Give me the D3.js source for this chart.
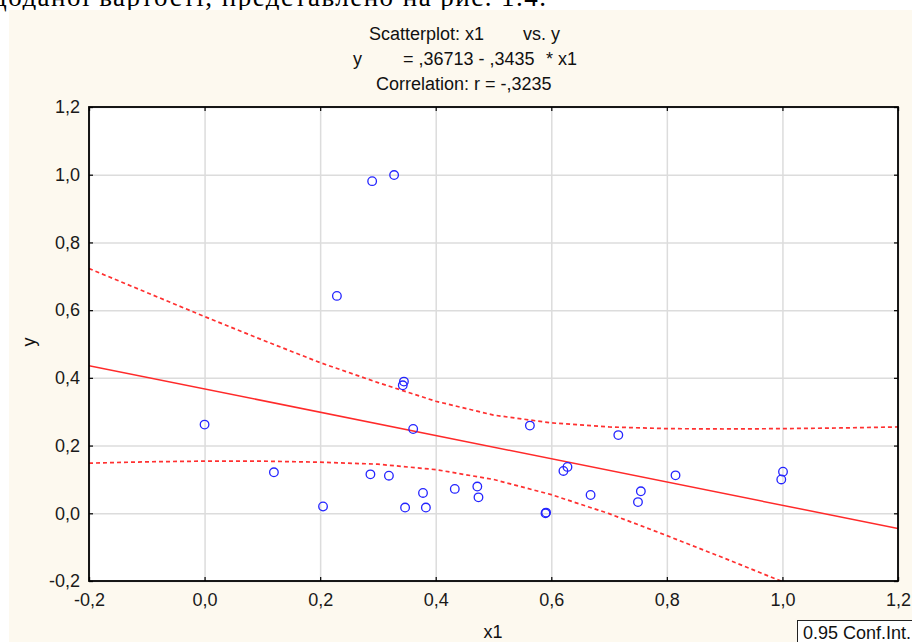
<!DOCTYPE html>
<html>
<head>
<meta charset="utf-8">
<script src="https://cdn.jsdelivr.net/npm/d3@7"></script>
<style>
  body { margin: 0; background: #ffffff; }
  svg { display: block; }
  .tick text { font-family: "Liberation Sans", Arial, sans-serif; }
</style>
</head>
<body>
<div id="chart"></div>
<script>
var xTicks = [-0.2, 0.0, 0.2, 0.4, 0.6, 0.8, 1.0, 1.2];
var yTicks = [-0.2, 0.0, 0.2, 0.4, 0.6, 0.8, 1.0, 1.2];

var x1Values = [0.000, 0.290, 0.328, 0.229, 0.345, 0.343, 0.361, 0.563, 0.716, 0.628,
                0.621, 0.287, 0.319, 0.378, 0.433, 0.472, 0.474, 0.205, 0.347, 0.383,
                0.590, 0.591, 0.668, 0.755, 0.750, 0.120, 0.815, 1.001, 0.998];
var yValues = [0.262, 0.981, 0.999, 0.642, 0.389, 0.378, 0.249, 0.259, 0.231, 0.137,
               0.125, 0.115, 0.111, 0.060, 0.072, 0.079, 0.047, 0.020, 0.017, 0.017,
               0.000, 0.002, 0.054, 0.065, 0.033, 0.121, 0.112, 0.123, 0.100];

var fitX = [-0.2, 1.2];
var fitY = [0.436, -0.045];

var bandX = [-0.2, -0.1, 0.0, 0.1, 0.2, 0.3, 0.4, 0.5, 0.6, 0.7, 0.8, 0.9, 1.0, 1.1, 1.2];
var bandUpper = [0.723, 0.652, 0.581, 0.512, 0.445, 0.386, 0.331, 0.290, 0.267, 0.255, 0.250, 0.249, 0.250, 0.252, 0.255];
var bandLower = [0.148, 0.152, 0.154, 0.154, 0.151, 0.145, 0.129, 0.100, 0.055, -0.001, -0.066, -0.133, -0.202, -0.274, -0.345];

var titleLines = [
    [{ x: 369, text: "Scatterplot: x1" }, { x: 523, text: "vs. y" }],
    [{ x: 353, text: "y" }, { x: 403, text: "= ,36713 - ,3435" }, { x: 546, text: "* x1" }],
    [{ x: 376, text: "Correlation: r = -,3235" }]
];

var W = 912, H = 642;
var plot = { left: 89, top: 107, right: 898, bottom: 581 };

var locale = d3.formatLocale({ decimal: ",", thousands: " ", grouping: [3], currency: ["", ""], minus: "-" });
var fmt = locale.format(".1f");

var svg = d3.select("#chart").append("svg")
    .attr("width", W)
    .attr("height", H);

// cropped line of document text above the figure
svg.append("text")
    .attr("x", -7)
    .attr("y", 6)
    .attr("font-family", "Liberation Serif, Times New Roman, serif")
    .attr("font-size", 27)
    .attr("fill", "#000")
    .attr("textLength", 553)
    .attr("lengthAdjust", "spacing")
    .text("доданої вартості, представлено на рис. 1.4.");

svg.append("rect")
    .attr("x", 9)
    .attr("y", 10)
    .attr("width", W - 9)
    .attr("height", H - 10)
    .attr("fill", "#fdf9ef");

var x = d3.scaleLinear().domain([-0.2, 1.2]).range([plot.left, plot.right]);
var y = d3.scaleLinear().domain([-0.2, 1.2]).range([plot.bottom, plot.top]);
var width = plot.right - plot.left, height = plot.bottom - plot.top;

svg.append("rect")
    .attr("x", plot.left)
    .attr("y", plot.top)
    .attr("width", width)
    .attr("height", height)
    .attr("fill", "#ffffff");

svg.append("clipPath").attr("id", "clip")
    .append("rect")
    .attr("x", plot.left)
    .attr("y", plot.top)
    .attr("width", width)
    .attr("height", height);

// grid
svg.append("g")
    .attr("transform", "translate(0," + plot.bottom + ")")
    .call(d3.axisBottom(x).tickValues(xTicks).tickSize(-height).tickFormat(""))
    .call(function(g) {
        g.select(".domain").remove();
        g.selectAll("line").attr("stroke", "#dcdcdc").attr("stroke-width", 1.5);
    });
svg.append("g")
    .attr("transform", "translate(" + plot.left + ",0)")
    .call(d3.axisLeft(y).tickValues(yTicks).tickSize(-width).tickFormat(""))
    .call(function(g) {
        g.select(".domain").remove();
        g.selectAll("line").attr("stroke", "#dcdcdc").attr("stroke-width", 1.5);
    });

var lines = svg.append("g").attr("clip-path", "url(#clip)");

var line = d3.line()
    .x(function(d) { return x(d[0]); })
    .y(function(d) { return y(d[1]); });

lines.append("path")
    .datum(d3.zip(bandX, bandUpper))
    .attr("d", line)
    .attr("fill", "none")
    .attr("stroke", "#ff3030")
    .attr("stroke-width", 1.7)
    .attr("stroke-dasharray", "4,3");
lines.append("path")
    .datum(d3.zip(bandX, bandLower))
    .attr("d", line)
    .attr("fill", "none")
    .attr("stroke", "#ff3030")
    .attr("stroke-width", 1.7)
    .attr("stroke-dasharray", "4,3");
lines.append("path")
    .datum(d3.zip(fitX, fitY))
    .attr("d", line)
    .attr("fill", "none")
    .attr("stroke", "#ff2a2a")
    .attr("stroke-width", 1.5);

svg.append("g").selectAll("circle")
    .data(d3.zip(x1Values, yValues))
    .enter().append("circle")
    .attr("cx", function(d) { return x(d[0]); })
    .attr("cy", function(d) { return y(d[1]); })
    .attr("r", 4.3)
    .attr("fill", "none")
    .attr("stroke", "#2424ff")
    .attr("stroke-width", 1.3);

// axes with inside ticks
function styleAxis(g) {
    g.select(".domain").remove();
    g.selectAll("line").attr("stroke", "#111").attr("stroke-width", 1.3);
    g.selectAll("text").attr("fill", "#1a1a1a").attr("font-size", 18);
}

svg.append("g")
    .attr("transform", "translate(" + plot.left + ",0)")
    .call(d3.axisLeft(y).tickValues(yTicks).tickSize(-4).tickPadding(9).tickFormat(fmt))
    .call(styleAxis);
svg.append("g")
    .attr("transform", "translate(0," + plot.bottom + ")")
    .call(d3.axisBottom(x).tickValues(xTicks).tickSize(-4).tickPadding(12).tickFormat(fmt))
    .call(styleAxis);
svg.append("g")
    .attr("transform", "translate(" + plot.right + ",0)")
    .call(d3.axisRight(y).tickValues(yTicks).tickSize(-4).tickFormat(""))
    .call(styleAxis);
svg.append("g")
    .attr("transform", "translate(0," + plot.top + ")")
    .call(d3.axisTop(x).tickValues(xTicks).tickSize(-4).tickFormat(""))
    .call(styleAxis);

svg.append("rect")
    .attr("x", plot.left)
    .attr("y", plot.top)
    .attr("width", width)
    .attr("height", height)
    .attr("fill", "none")
    .attr("stroke", "#000")
    .attr("stroke-width", 1.8);

// titles
var titleBase = [40, 65, 90];
titleLines.forEach(function(row, i) {
    svg.append("g").selectAll("text")
        .data(row)
        .enter().append("text")
        .attr("x", function(d) { return d.x; })
        .attr("y", titleBase[i])
        .attr("font-family", "Liberation Sans, Arial, sans-serif")
        .attr("font-size", 18)
        .attr("fill", "#111")
        .text(function(d) { return d.text; });
});

svg.append("text")
    .attr("x", 493)
    .attr("y", 638)
    .attr("text-anchor", "middle")
    .attr("font-family", "Liberation Sans, Arial, sans-serif")
    .attr("font-size", 18)
    .attr("fill", "#111")
    .text("x1");

svg.append("text")
    .attr("transform", "translate(35,342) rotate(-90)")
    .attr("text-anchor", "middle")
    .attr("font-family", "Liberation Sans, Arial, sans-serif")
    .attr("font-size", 18)
    .attr("fill", "#111")
    .text("y");

// legend
svg.append("rect")
    .attr("x", 797.5)
    .attr("y", 620.5)
    .attr("width", 130)
    .attr("height", 40)
    .attr("fill", "#ffffff")
    .attr("stroke", "#222")
    .attr("stroke-width", 1);
svg.append("text")
    .attr("x", 803)
    .attr("y", 639)
    .attr("font-family", "Liberation Sans, Arial, sans-serif")
    .attr("font-size", 18)
    .attr("fill", "#111")
    .text("0.95 Conf.Int.");
</script>
</body>
</html>
